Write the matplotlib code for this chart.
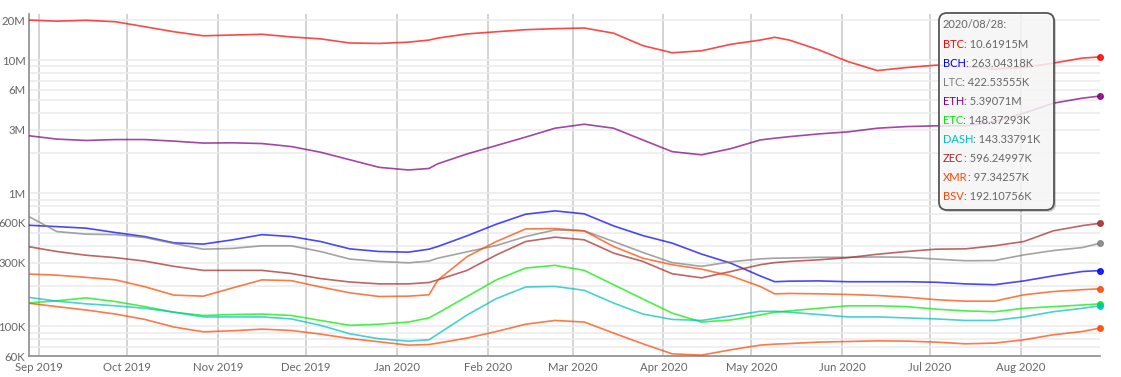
import matplotlib
matplotlib.use("Agg")
import numpy as np
import pandas as pd
import matplotlib.pyplot as plt
import matplotlib.dates as mdates
from matplotlib.patches import FancyBboxPatch
from matplotlib.ticker import FixedLocator, FixedFormatter, LogLocator, NullFormatter
from matplotlib.transforms import Affine2D

# days after 2019-08-28
day_offsets = [0, 10, 20, 30, 40, 50, 60, 70, 80, 90, 100, 110, 120, 130, 137,
               140, 150, 160, 170, 180, 190, 200, 210, 220, 230, 240, 250, 255,
               260, 270, 280, 290, 300, 310, 320, 330, 340, 350, 360, 366]

# millions
btc = [20.1, 19.7, 20.0, 19.5, 17.9, 16.4, 15.3, 15.5, 15.7, 15.0,
       14.5, 13.5, 13.4, 13.7, 14.2,
       14.7, 15.8, 16.4, 17.0, 17.3, 17.5, 16.0, 12.9, 11.4, 11.8, 13.2, 14.2,
       14.9,
       14.2, 12.0, 9.79, 8.38, 8.83, 9.20, 8.98, 8.63, 8.83, 9.53, 10.4,
       10.62]
eth = [2.72, 2.56, 2.50, 2.54, 2.54, 2.47, 2.39, 2.40, 2.37, 2.25,
       2.04, 1.79, 1.57, 1.50, 1.54,
       1.67, 1.98, 2.29, 2.65, 3.09, 3.31, 3.09, 2.52, 2.06, 1.95, 2.17, 2.52,
       2.60,
       2.67, 2.80, 2.90, 3.09, 3.18, 3.22, 3.22, 3.47, 4.01, 4.76, 5.20,
       5.39]

# thousands
bch = [577, 563, 548, 508, 474, 425, 416, 448, 490, 474,
       435, 383, 366, 362, 381,
       399, 480, 587, 698, 739, 702, 570, 482, 423, 350, 299, 240,
       217,
       219, 220, 217, 217, 217, 215, 209, 206, 220, 240, 259,
       263]
ltc = [678, 517, 494, 490, 466, 420, 381, 386, 404, 404,
       366, 321, 308, 301, 310,
       326, 364, 406, 474, 532, 523, 435, 360, 302, 283, 306, 322,
       326,
       327, 331, 331, 333, 331, 321, 312, 313, 345, 372, 392,
       422.5]
zec = [399, 366, 343, 329, 310, 283, 264, 264, 264, 250,
       229, 216, 209, 209, 214,
       224, 264, 345, 435, 469, 448, 356, 308, 249, 232, 259, 291,
       302,
       308, 317, 329, 349, 366, 381, 383, 404, 435, 523, 573,
       596]
bsv = [248, 243, 234, 224, 199, 172, 169, 195, 224, 221,
       198, 179, 168, 169, 173,
       223, 335, 435, 541, 544, 523, 399, 326, 291, 270, 240, 200,
       176,
       177, 176, 174, 171, 166, 159, 155, 155, 173, 183, 189,
       192]
etc = [150, 156, 164, 154, 141, 128, 121, 123, 124, 121,
       111, 102, 104, 108, 116,
       126, 168, 224, 275, 288, 264, 206, 161, 126, 108, 112, 122,
       128,
       131, 137, 143, 143, 141, 135, 131, 129, 137, 141, 145,
       148]
dash = [166, 155, 148, 143, 137, 128, 118, 118, 118, 114,
        102, 88.1, 80.8, 77.6, 79.4,
        87.6, 122, 162, 198, 200, 187, 150, 124, 113, 111, 120, 130,
        130,
        128, 123, 118, 118, 116, 114, 111, 111, 118, 129, 137,
        143]
xmr = [150, 141, 133, 124, 113, 99.0, 91.2, 92.8, 95.5, 93.3,
       87.6, 81.2, 76.7, 72.4, 73.2,
       75.0, 81.8, 91.7, 104, 111, 108, 89.2, 74.1, 62.3, 60.9, 66.8, 72.4,
       73.7,
       74.4, 76.3, 77.1, 78.0, 77.6, 76.3, 74.1, 75.0, 79.4, 86.6, 91.7,
       97.3]

names = ["BTC", "BCH", "LTC", "ETH", "ETC", "DASH", "ZEC", "XMR", "BSV"]
tooltip_values = ["10.61915M", "263.04318K", "422.53555K", "5.39071M",
                  "148.37293K", "143.33791K", "596.24997K", "97.34257K",
                  "192.10756K"]
tooltip_date = "2020/08/28:"

y_ticks = [6e4, 1e5, 3e5, 6e5, 1e6, 3e6, 6e6, 1e7, 2e7]
y_labels = ["60K", "100K", "300K", "600K", "1M", "3M", "6M", "10M", "20M"]

colors = {"BTC": "#ff0000", "BCH": "#0000ff", "LTC": "#808080",
          "ETH": "#800080", "ETC": "#00ee00", "DASH": "#00c0c0",
          "ZEC": "#a52a2a", "XMR": "#ff4500", "BSV": "#ff4500"}

series = {"BTC": np.array(btc) * 1e6, "BCH": np.array(bch) * 1e3,
          "LTC": np.array(ltc) * 1e3, "ETH": np.array(eth) * 1e6,
          "ETC": np.array(etc) * 1e3, "DASH": np.array(dash) * 1e3,
          "ZEC": np.array(zec) * 1e3, "XMR": np.array(xmr) * 1e3,
          "BSV": np.array(bsv) * 1e3}

start = pd.Timestamp("2019-08-28")
dates = start + pd.to_timedelta(day_offsets, unit="D")

plt.rcParams["font.family"] = ["Lato", "DejaVu Sans"]

W, H = 1121, 377
fig = plt.figure(figsize=(W / 100, H / 100), dpi=100)
ax = fig.add_axes([29 / W, 21 / H, 1071 / W, 342 / H])

for name in names:
    vals = series[name]
    ax.plot(dates, vals, color=colors[name], alpha=0.72, lw=1.2, zorder=3)
    ax.plot(dates[-1], vals[-1], "o", color=colors[name], ms=4, alpha=0.85,
            clip_on=False, zorder=4)

ax.set_yscale("log")
ax.set_ylim(6e4, 22.3e6)
ax.set_xlim(start + pd.Timedelta(hours=12), pd.Timestamp("2020-08-28"))

ax.yaxis.set_major_locator(FixedLocator(y_ticks))
ax.yaxis.set_major_formatter(FixedFormatter(y_labels))
ax.yaxis.set_minor_locator(LogLocator(base=10, subs=range(1, 10), numticks=20))
ax.yaxis.set_minor_formatter(NullFormatter())
ax.yaxis.grid(True, which="both", color="#ebebeb", lw=1.1, zorder=0)

ax.xaxis.set_major_locator(mdates.MonthLocator())
ax.xaxis.set_major_formatter(mdates.DateFormatter("%b %Y"))
ax.xaxis.grid(True, which="major", color="#c8c8c8", lw=1.1, zorder=1)
ax.set_axisbelow(True)

ax.tick_params(axis="both", which="both", length=0, labelsize=8.2,
               labelcolor="#666666")
ax.tick_params(axis="y", pad=2.5)
ax.tick_params(axis="x", pad=4)

for side in ["top", "right"]:
    ax.spines[side].set_visible(False)
for side in ["left", "bottom"]:
    ax.spines[side].set_color("#8c8c8c")
    ax.spines[side].set_linewidth(1.2)

# tooltip box in pixel coords from top-left
px = Affine2D().scale(1 / W, -1 / H).translate(0, 1) + fig.transFigure
shadow = FancyBboxPatch((941, 15), 115, 197,
                        boxstyle="round,pad=0,rounding_size=8",
                        transform=px, facecolor="#000000", alpha=0.18,
                        edgecolor="none", zorder=5)
box = FancyBboxPatch((939, 13), 115, 197,
                     boxstyle="round,pad=0,rounding_size=8",
                     transform=px, facecolor="white", alpha=0.82,
                     edgecolor="none", zorder=6)
border = FancyBboxPatch((939, 13), 115, 197,
                        boxstyle="round,pad=0,rounding_size=8",
                        transform=px, facecolor="none",
                        edgecolor="#555555", lw=1.3, zorder=7)
fig.add_artist(shadow)
fig.add_artist(box)
fig.add_artist(border)

fs = 8.0
fig.text(943, 25, tooltip_date, transform=px, fontsize=fs,
         color="#666666", va="center", ha="left", zorder=8)
for i, name in enumerate(names):
    yy = 44 + i * 19.05
    t = fig.text(943, yy, name, transform=px, fontsize=fs,
                 color=colors[name], va="center", ha="left", zorder=8)
    fig.add_artist(plt.Annotation(": " + tooltip_values[i], xy=(1, 0.5),
                                  xycoords=t, fontsize=fs, color="#666666",
                                  va="center", ha="left", zorder=8))

fig.savefig("out.png", dpi=100)
